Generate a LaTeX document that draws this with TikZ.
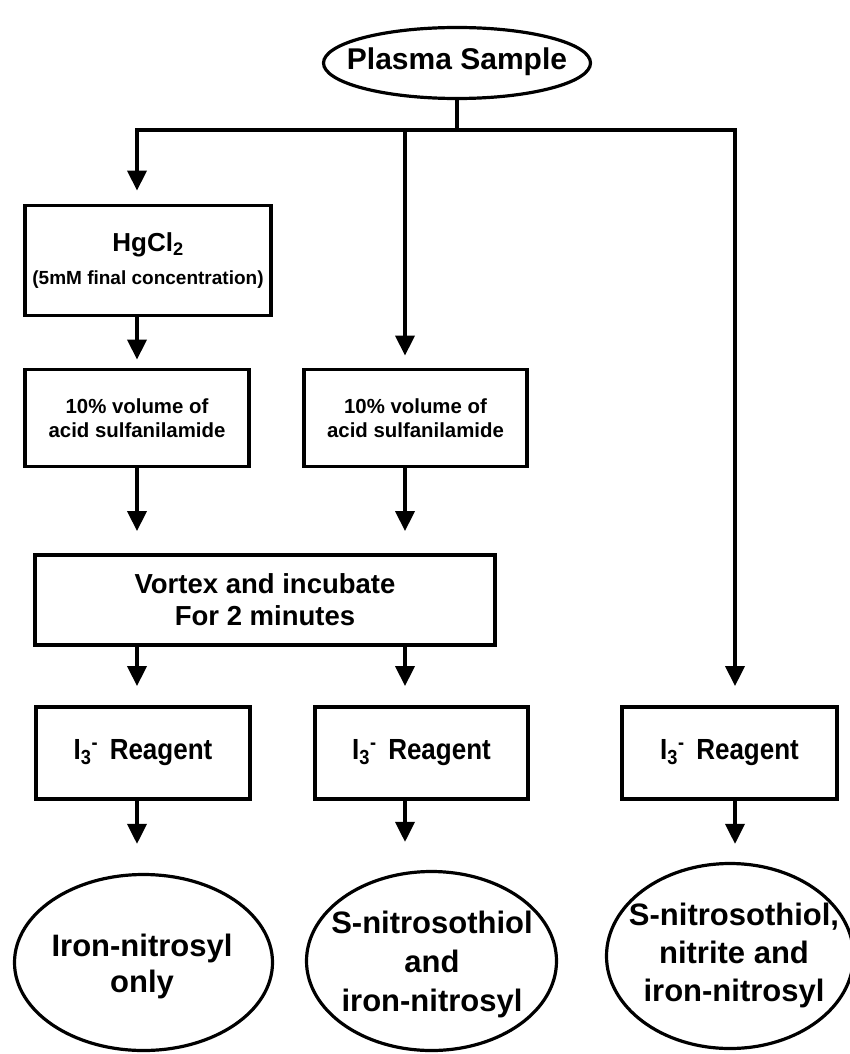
\documentclass[tikz,border=0pt]{standalone}
\usepackage{fontspec}
\usepackage{graphicx}
\setmainfont{Liberation Sans}
\usetikzlibrary{arrows.meta,shapes.geometric}
\newcommand\fs[2]{\fontsize{#1}{#2}\selectfont}
\newcommand\reagent{\scalebox{1}[1.12]{I\textsubscript{3}\textsuperscript{-}\hspace{0.45em}Reagent}}
\begin{document}
\begin{tikzpicture}[x=1pt,y=-1pt,
  box/.style={draw, line width=3.8pt, rectangle, inner sep=0pt, align=center},
  oval/.style={draw, line width=3.2pt, ellipse, inner sep=0pt},
  txt/.style={inner sep=0pt, align=center},
  arr/.style={line width=3.5pt, -{Triangle[width=19pt,length=20pt]}},
  ln/.style={line width=3.5pt},
]
\useasboundingbox (0,0) rectangle (850,1054);
\fill[white] (0,0) rectangle (850,1054);
% top
\node[oval, minimum width=267pt, minimum height=71pt] (plasma) at (457,63) {};
\node[txt, font=\bfseries\fs{30}{34}] (plasmaT) at (457,61.5) {Plasma Sample};
% boxes
\node[box, font=\bfseries\fs{19}{33}, minimum width=246pt, minimum height=110pt] (hg) at (148,260.5)
  {\fs{26}{33}HgCl\textsubscript{2}\\(5mM final concentration)};
\node[box, font=\bfseries\fs{20.4}{24}, minimum width=224pt, minimum height=97pt] (sulfL) at (137,418)
  {10\% volume of\\acid sulfanilamide};
\node[box, font=\bfseries\fs{20.4}{24}, minimum width=223pt, minimum height=97pt] (sulfM) at (415.5,418)
  {10\% volume of\\acid sulfanilamide};
\node[box, font=\bfseries\fs{27.5}{32}, minimum width=460pt, minimum height=90pt] (vortex) at (265,600)
  {Vortex and incubate\\For 2 minutes};
\node[box, font=\bfseries\fs{26}{30}, minimum width=214pt, minimum height=92pt] (i3L) at (143,753)
  {\reagent};
\node[box, font=\bfseries\fs{26}{30}, minimum width=213pt, minimum height=92pt] (i3M) at (421.5,753)
  {\reagent};
\node[box, font=\bfseries\fs{26}{30}, minimum width=215pt, minimum height=92pt] (i3R) at (729.5,753)
  {\reagent};
% result ellipses
\node[oval, minimum width=258pt, minimum height=176pt] (ellL) at (143.5,962.5) {};
\node[txt, font=\bfseries\fs{31}{36}] (ellLT) at (142,966) {Iron-nitrosyl\\only};
\node[oval, minimum width=250pt, minimum height=179pt] (ellM) at (431.5,961) {};
\node[txt, font=\bfseries\fs{31}{39}] (ellMT) at (432,964) {S-nitrosothiol\\and\\iron-nitrosyl};
\node[oval, minimum width=247pt, minimum height=185pt] (ellR) at (730,956) {};
\node[txt, font=\bfseries\fs{31}{38}] (ellRT) at (734,955) {S-nitrosothiol,\\nitrite and\\iron-nitrosyl};
% connectors
\coordinate (split) at (457,130);
\coordinate (cL) at (137,130);
\coordinate (cM) at (405,130);
\coordinate (cR) at (735,130);
\draw[ln] (plasma.south) -- (split);
\draw[arr, shorten >=13pt] (split) -- (cL) -- (cL |- hg.north);
\draw[arr, shorten >=19pt] (split) -- (cR) -- (cR |- i3R.north);
\draw[arr, shorten >=12pt] (cM) -- (cM |- sulfM.north);
\draw[arr, shorten >=8pt] (cL |- hg.south) -- (cL |- sulfL.north);
\draw[arr, shorten >=22pt] (cL |- sulfL.south) -- (cL |- vortex.north);
\draw[arr, shorten >=22pt] (cM |- sulfM.south) -- (cM |- vortex.north);
\draw[arr, shorten >=19pt] (cL |- vortex.south) -- (cL |- i3L.north);
\draw[arr, shorten >=19pt] (cM |- vortex.south) -- (cM |- i3M.north);
\draw[arr, shorten >=29pt] (cL |- i3L.south) -- (cL |- ellL.north);
\draw[arr, shorten >=28pt] (cM |- i3M.south) -- (cM |- ellM.north);
\draw[arr, shorten >=18pt] (cR |- i3R.south) -- (cR |- ellR.north);
\end{tikzpicture}
\end{document}
